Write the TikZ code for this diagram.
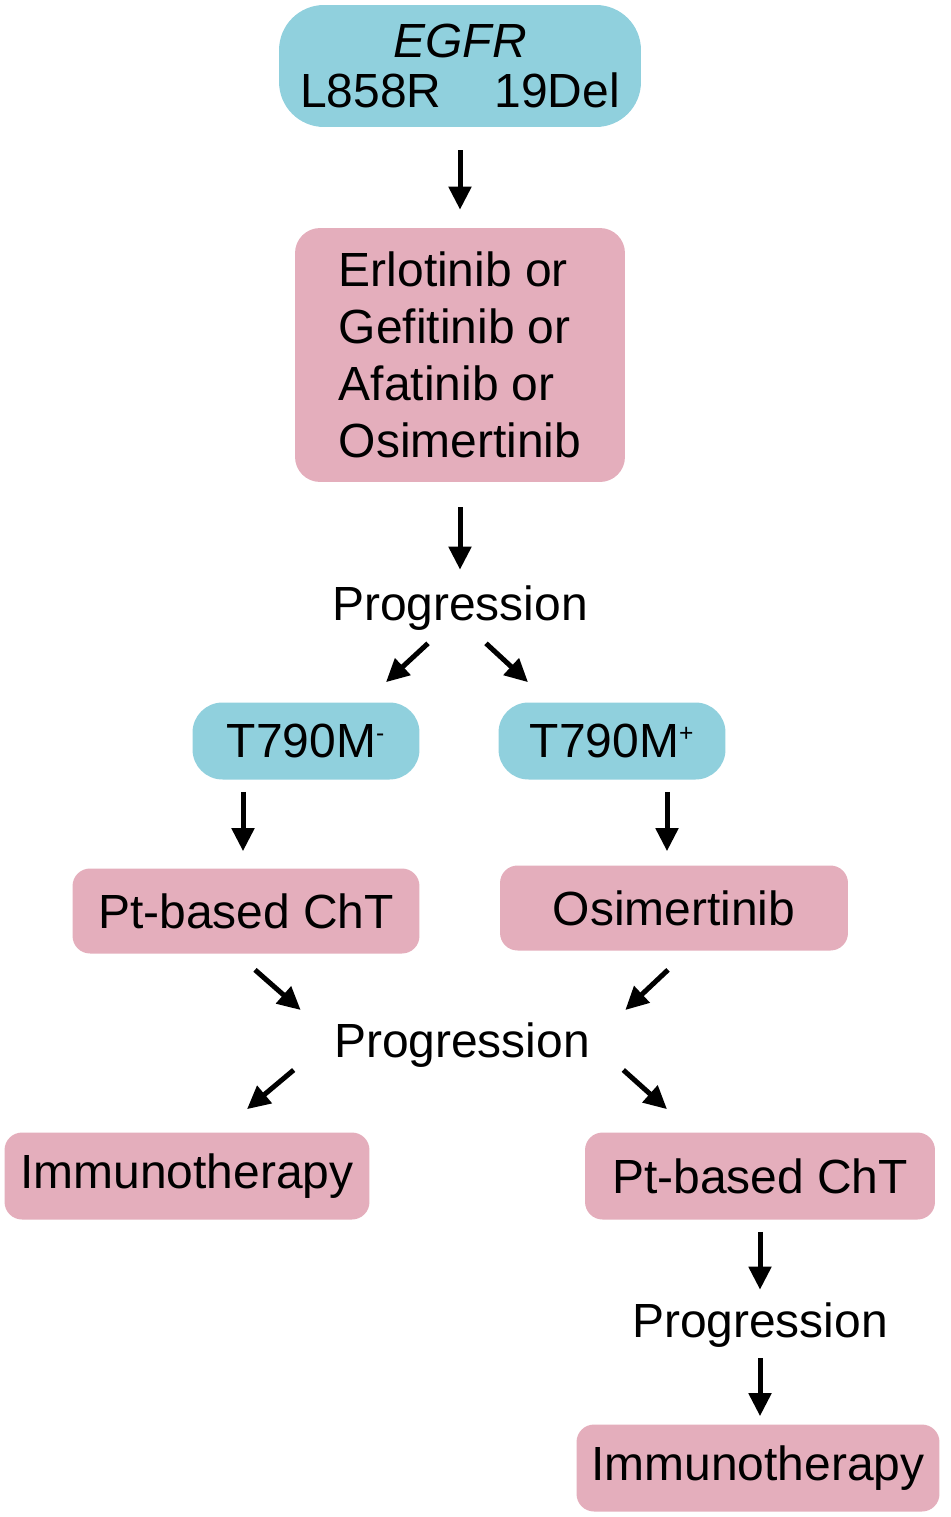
\documentclass[tikz,border=0pt]{standalone}
\usepackage{fontspec}
\setmainfont{Liberation Sans}
\usetikzlibrary{arrows.meta, positioning, calc}

\definecolor{mutblue}{RGB}{144,208,221}
\definecolor{drugpink}{RGB}{228,174,188}

\newcommand{\statsign}[1]{\textsuperscript{\fontsize{14}{14}\selectfont #1}}

\tikzset{
  mutation/.style={fill=mutblue, inner sep=0pt, align=center},
  therapy/.style={fill=drugpink, rounded corners=0.35cm, inner sep=0pt, align=center},
  stage/.style={inner sep=0pt, minimum height=1.2cm},
  arr/.style={line width=0.1cm, -{Triangle[length=0.46cm, width=0.44cm]}},
}

\begin{document}
\begin{tikzpicture}[x=0.02cm, y=-0.02cm, font=\fontsize{27.3}{29}\selectfont]
  \useasboundingbox (0,0) rectangle (950,1517);

  % first line of treatment
  \node[mutation, rounded corners=0.9cm, minimum width=7.24cm, minimum height=2.44cm]
    (egfr) at (460,66) {\textit{EGFR}\\L858R\hspace{1.06cm}19Del};
  \node[therapy, rounded corners=0.5cm, minimum width=6.6cm, minimum height=5.08cm,
    align=left, font=\fontsize{27.3}{32.5}\selectfont]
    (tki) at (460,355) {Erlotinib or\\Gefitinib or\\Afatinib or\\Osimertinib};
  \node[stage] (prog1) at (460,608) {Progression};

  % second line, by T790M status
  \node[mutation, rounded corners=0.6cm, minimum width=4.54cm, minimum height=1.54cm]
    (tneg) at (306,741) {T790M\statsign{-}};
  \node[mutation, rounded corners=0.6cm, minimum width=4.54cm, minimum height=1.54cm]
    (tpos) at (612,741) {T790M\statsign{+}};
  \node[therapy, minimum width=6.94cm, minimum height=1.7cm] (chtA) at (246,911) {Pt-based ChT};
  \node[therapy, minimum width=6.96cm, minimum height=1.7cm] (osi) at (674,908) {Osimertinib};
  \node[stage] (prog2) at (462,1045) {Progression};

  % third line
  \node[therapy, minimum width=7.3cm, minimum height=1.74cm] (immA) at (187,1176) {Immunotherapy};
  \node[therapy, minimum width=7cm, minimum height=1.74cm] (chtB) at (760,1176) {Pt-based ChT};
  \node[stage] (prog3) at (760,1325) {Progression};
  \node[therapy, minimum width=7.26cm, minimum height=1.74cm] (immB) at (758,1468) {Immunotherapy};

  % arrows
  \draw[arr] ($(egfr.south)+(0,23)$) -- ($(tki.north)+(0,-18)$);
  \draw[arr] ($(tki.south)+(0,25)$) -- ($(prog1.north)+(0,-8)$);
  \draw[arr] ($(prog1.south)+(-32,5)$) -- ($(tneg.north)+(80,-20)$);
  \draw[arr] ($(prog1.south)+(26,5)$) -- ($(tpos.north)+(-84,-20)$);
  \draw[arr] ($(tneg.south -| chtA.north)+(-3,12)$) -- ($(chtA.north)+(-3,-17)$);
  \draw[arr] ($(tpos.south -| osi.north)+(-7,12)$) -- ($(osi.north)+(-7,-14)$);
  \draw[arr] ($(chtA.south)+(9,16)$) -- ($(prog2.west)+(-33,-35)$);
  \draw[arr] ($(osi.south)+(-6,19)$) -- ($(prog2.east)+(35,-35)$);
  \draw[arr] ($(prog2.west)+(-40,25)$) -- ($(immA.north)+(60,-23)$);
  \draw[arr] ($(prog2.east)+(33,25)$) -- ($(chtB.north)+(-93,-23)$);
  \draw[arr] ($(chtB.south)+(0,12)$) -- ($(prog3.north)+(0,-5)$);
  \draw[arr] ($(prog3.south)+(0,3)$) -- ($(immB.north)+(2,-8)$);
\end{tikzpicture}
\end{document}
